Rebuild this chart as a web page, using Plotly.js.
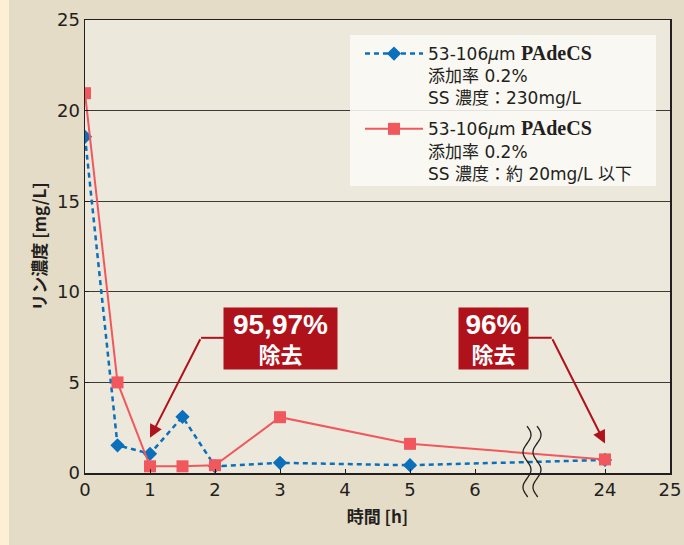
<!DOCTYPE html>
<html>
<head>
<meta charset="utf-8">
<script src="https://cdn.plot.ly/plotly-3.0.1.min.js"></script>
<style>html,body{margin:0;padding:0;background:#e4dcc6;}#chart{width:684px;height:545px;}</style>
</head>
<body>
<div id="chart"></div>
<script>
// ---- data ----
const hours = [0, 0.5, 1, 1.5, 2, 3, 5, 24];
const blueVals = [18.55, 1.53, 1.06, 3.1, 0.37, 0.56, 0.43, 0.72];
const redVals = [20.96, 5.0, 0.37, 0.37, 0.43, 3.08, 1.61, 0.75];
const tickHours = [0, 1, 2, 3, 4, 5, 6, 24, 25];
const yTicks = [0, 5, 10, 15, 20, 25];
const blueName = '53-106<i>μ</i>m <span style="font-family:\'Liberation Serif\';font-size:20px"><b>PAdeCS</b></span><br>添加率 0.2%<br>SS 濃度：230mg/L';
const redName = '53-106<i>μ</i>m <span style="font-family:\'Liberation Serif\';font-size:20px"><b>PAdeCS</b></span><br>添加率 0.2%<br>SS 濃度：約 20mg/L 以下';
const note1 = '<span style="font-size:28px">95,97%</span><br>除去';
const note2 = '<span style="font-size:28px">96%</span><br>除去';
const note1Target = [1, 1.94];   // [hours, value] arrow tip
const note2Target = [24, 1.63];

// broken axis: hours beyond 6 are shifted so 24 sits two units after 6
function pos(h) { return h <= 6 ? h : h - 16; }

// layout geometry
const W = 684, H = 545, L = 85, R = 14, T = 20, B = 72;
const pw = W - L - R, ph = H - T - B;
function px2paperX(px) { return (px - L) / pw; }
function px2paperY(py) { return (H - B - py) / ph; }

function wavePath(cx, y0, y1) {
  let d = '';
  const n = 40;
  for (let i = 0; i <= n; i++) {
    const py = y0 + (y1 - y0) * i / n;
    const pxv = cx + 4 * Math.sin(2 * Math.PI * (py - y0) / 35);
    d += (i === 0 ? 'M' : 'L') + px2paperX(pxv).toFixed(5) + ',' + px2paperY(py).toFixed(5);
  }
  return d;
}

const traces = [
  {
    x: hours.map(pos), y: blueVals, type: 'scatter', mode: 'lines+markers',
    name: blueName, legendgroup: 'a',
    line: {color: '#0b6fbb', width: 2.5, dash: '5px,4px'},
    marker: {symbol: 'diamond', size: 11, color: '#0b6fbb'}
  },
  {
    x: hours.map(pos), y: redVals, type: 'scatter', mode: 'lines+markers',
    name: redName, legendgroup: 'b',
    line: {color: '#f0585e', width: 2},
    marker: {symbol: 'square', size: 12, color: '#f0585e'}
  }
];

const red = '#b0121b';
const annFont = {family: 'Liberation Sans, Noto Sans CJK JP', size: 22, color: '#ffffff', weight: 'bold'};
const tickFont = {size: 18, family: 'DejaVu Sans', color: '#231f20'};
const titleFont = {size: 17, family: 'Noto Sans CJK JP', weight: 'bold', color: '#231f20'};
const layout = {
  width: W, height: H,
  margin: {l: L, r: R, t: T, b: B},
  paper_bgcolor: '#e4dcc6',
  plot_bgcolor: '#ece8db',
  showlegend: true,
  font: {family: 'Noto Sans, Noto Sans CJK JP', color: '#231f20'},
  xaxis: {
    range: [0, 9], tickmode: 'array',
    tickvals: tickHours.map(pos), ticktext: tickHours.map(String),
    ticks: 'inside', ticklen: 4, tickcolor: '#231f20',
    showline: true, linecolor: '#231f20', linewidth: 1.5, mirror: true,
    showgrid: false, zeroline: false,
    tickfont: tickFont,
    title: {text: '時間 [h]', font: titleFont, standoff: 12}
  },
  yaxis: {
    range: [0, 25], tickmode: 'array', tickvals: yTicks,
    ticks: 'inside', ticklen: 4, tickcolor: '#231f20',
    showline: true, linecolor: '#231f20', linewidth: 1.5, mirror: true,
    showgrid: true, gridcolor: '#3c3a36', gridwidth: 1, zeroline: false,
    tickfont: tickFont,
    title: {text: 'リン濃度 [mg/L]', font: titleFont, standoff: 6}
  },
  legend: {
    x: px2paperX(360), y: px2paperY(36), xanchor: 'left', yanchor: 'top',
    bgcolor: 'rgba(0,0,0,0)', borderwidth: 0,
    font: {size: 17, family: 'DejaVu Sans, Noto Sans CJK JP', color: '#231f20'},
    itemwidth: 58, valign: 'top', traceorder: 'grouped', tracegroupgap: 6
  },
  shapes: [
    {type: 'rect', xref: 'paper', yref: 'paper', x0: px2paperX(0), x1: px2paperX(9), y0: px2paperY(H), y1: px2paperY(0),
     fillcolor: '#fcefd4', line: {width: 0}, layer: 'below'},
    {type: 'rect', xref: 'paper', yref: 'paper', x0: px2paperX(350), x1: px2paperX(656), y0: px2paperY(186), y1: px2paperY(35),
     fillcolor: 'rgba(250,249,246,0.88)', line: {width: 0}, layer: 'above'},
    {type: 'path', xref: 'paper', yref: 'paper', path: wavePath(527, 426, 497), line: {color: '#231f20', width: 1.3}},
    {type: 'path', xref: 'paper', yref: 'paper', path: wavePath(537, 426, 497), line: {color: '#231f20', width: 1.3}},
    {type: 'line', xref: 'x', yref: 'y', x0: 1.785, y0: 7.46, x1: 2.2, y1: 7.46, line: {color: red, width: 2}},
    {type: 'line', xref: 'x', yref: 'y', x0: 6.6, y0: 7.46, x1: 7.18, y1: 7.46, line: {color: red, width: 2}}
  ],
  annotations: [
    {x: pos(note1Target[0]), y: note1Target[1], xref: 'x', yref: 'y', ax: 1.785, ay: 7.46, axref: 'x', ayref: 'y',
     showarrow: true, arrowhead: 2, arrowsize: 1.3, arrowwidth: 2, arrowcolor: red, text: ''},
    {x: pos(note2Target[0]), y: note2Target[1], xref: 'x', yref: 'y', ax: 7.18, ay: 7.46, axref: 'x', ayref: 'y',
     showarrow: true, arrowhead: 2, arrowsize: 1.3, arrowwidth: 2, arrowcolor: red, text: ''},
    {x: 3.0, y: 7.44, xref: 'x', yref: 'y', showarrow: false, text: note1, width: 113, height: 61,
     bgcolor: red, font: annFont, align: 'center', borderpad: 0},
    {x: 6.28, y: 7.44, xref: 'x', yref: 'y', showarrow: false, text: note2, width: 69, height: 61,
     bgcolor: red, font: annFont, align: 'center', borderpad: 0}
  ]
};

Plotly.newPlot('chart', traces, layout, {displayModeBar: false, staticPlot: true});
</script>
</body>
</html>
